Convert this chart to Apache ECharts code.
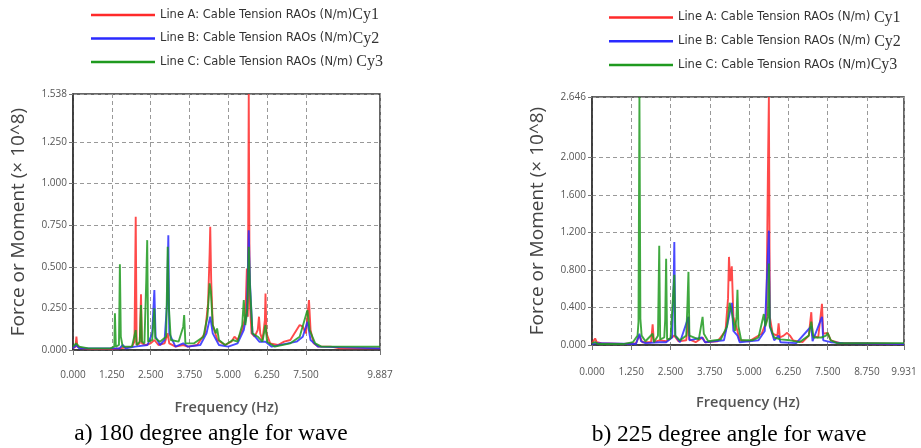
<!DOCTYPE html>
<html><head><meta charset="utf-8">
<script src="https://cdn.jsdelivr.net/npm/echarts@6/dist/echarts.min.js"></script>
<style>html,body{margin:0;padding:0;background:#fff}#c{width:921px;height:448px}</style>
</head><body><div id="c"></div>
<script>
// ---- data: [frequency (Hz), force (x10^8)] ----
const a180_lineA = [[0,0.01],[0.08,0.02],[0.11,0.08],[0.14,0.02],[0.2,0.03],[0.3,0.01],[0.6,0.005],[1.2,0.005],[1.5,0.01],[1.9,0.02],[1.98,0.05],[2.02,0.80],[2.05,0.03],[2.15,0.04],[2.19,0.335],[2.22,0.04],[2.35,0.03],[2.5,0.04],[2.62,0.06],[2.75,0.03],[2.95,0.04],[3.05,0.1],[3.1,0.04],[3.3,0.02],[3.55,0.03],[3.7,0.02],[4.0,0.03],[4.25,0.1],[4.35,0.28],[4.40,0.58],[4.42,0.74],[4.45,0.42],[4.5,0.15],[4.65,0.06],[4.9,0.03],[5.1,0.05],[5.2,0.08],[5.3,0.06],[5.45,0.12],[5.55,0.2],[5.6,0.49],[5.63,0.2],[5.66,1.538],[5.69,0.3],[5.75,0.1],[5.85,0.08],[5.95,0.12],[5.99,0.20],[6.03,0.1],[6.1,0.06],[6.18,0.18],[6.2,0.34],[6.23,0.1],[6.35,0.04],[6.6,0.03],[6.8,0.05],[7.0,0.06],[7.2,0.12],[7.3,0.15],[7.4,0.14],[7.5,0.1],[7.6,0.30],[7.65,0.12],[7.75,0.04],[7.9,0.02],[8.3,0.02],[8.6,0.01],[9.887,0.01]];
const a180_lineB = [[0,0.01],[0.1,0.03],[0.2,0.01],[1.5,0.01],[1.6,0.03],[1.7,0.01],[2.0,0.02],[2.4,0.03],[2.55,0.1],[2.62,0.36],[2.66,0.08],[2.8,0.03],[2.95,0.06],[3.03,0.28],[3.07,0.69],[3.1,0.1],[3.3,0.02],[3.55,0.04],[3.7,0.02],[4.1,0.03],[4.3,0.1],[4.42,0.2],[4.5,0.1],[4.7,0.03],[5.0,0.02],[5.3,0.04],[5.5,0.12],[5.6,0.22],[5.66,0.72],[5.7,0.4],[5.78,0.1],[6.0,0.05],[6.2,0.05],[6.4,0.02],[7.2,0.05],[7.4,0.08],[7.55,0.17],[7.65,0.06],[7.9,0.02],[9.887,0.01]];
const a180_lineC = [[0,0.02],[0.1,0.04],[0.2,0.02],[0.5,0.01],[1.2,0.01],[1.33,0.02],[1.35,0.22],[1.38,0.02],[1.48,0.03],[1.51,0.515],[1.54,0.08],[1.6,0.02],[1.9,0.02],[2.02,0.12],[2.05,0.03],[2.15,0.05],[2.19,0.27],[2.22,0.05],[2.3,0.04],[2.36,0.42],[2.39,0.66],[2.42,0.05],[2.55,0.06],[2.62,0.25],[2.65,0.07],[2.8,0.05],[3.0,0.08],[3.05,0.62],[3.09,0.25],[3.15,0.06],[3.4,0.05],[3.55,0.14],[3.58,0.21],[3.62,0.04],[3.9,0.04],[4.2,0.08],[4.33,0.2],[4.40,0.40],[4.44,0.35],[4.5,0.15],[4.6,0.1],[4.64,0.13],[4.7,0.06],[4.9,0.03],[5.15,0.06],[5.3,0.05],[5.45,0.15],[5.50,0.30],[5.55,0.15],[5.62,0.25],[5.66,0.62],[5.7,0.38],[5.78,0.1],[5.95,0.08],[6.1,0.05],[6.2,0.15],[6.25,0.05],[6.5,0.02],[7.0,0.04],[7.3,0.08],[7.55,0.24],[7.62,0.12],[7.8,0.04],[8.0,0.02],[9.887,0.02]];

const b225_lineA = [[0,0.02],[0.1,0.07],[0.15,0.03],[0.3,0.02],[1.0,0.01],[1.4,0.02],[1.51,0.1],[1.6,0.03],[1.88,0.03],[1.93,0.22],[1.97,0.03],[2.14,0.05],[2.36,0.04],[2.62,0.1],[2.75,0.04],[3.0,0.05],[3.07,0.30],[3.1,0.06],[3.3,0.03],[3.52,0.08],[3.6,0.03],[4.0,0.04],[4.25,0.15],[4.33,0.5],[4.36,0.94],[4.40,0.68],[4.45,0.84],[4.5,0.3],[4.63,0.15],[4.7,0.05],[5.0,0.04],[5.2,0.08],[5.4,0.12],[5.55,0.25],[5.60,1.86],[5.63,2.646],[5.66,0.3],[5.75,0.12],[5.9,0.1],[5.94,0.23],[5.98,0.08],[6.1,0.1],[6.21,0.13],[6.3,0.1],[6.4,0.05],[6.7,0.03],[6.9,0.1],[6.98,0.35],[7.02,0.1],[7.2,0.08],[7.32,0.44],[7.36,0.12],[7.5,0.13],[7.6,0.05],[7.9,0.02],[8.5,0.02],[9.931,0.01]];
const b225_lineB = [[0,0.01],[0.1,0.02],[1.4,0.01],[1.51,0.12],[1.56,0.04],[1.7,0.02],[2.14,0.03],[2.36,0.03],[2.55,0.08],[2.60,0.65],[2.62,1.10],[2.65,0.1],[2.8,0.03],[3.07,0.3],[3.1,0.05],[3.5,0.08],[3.6,0.03],[4.2,0.05],[4.36,0.3],[4.45,0.45],[4.5,0.15],[4.63,0.1],[4.7,0.03],[5.3,0.05],[5.5,0.15],[5.63,1.22],[5.66,0.2],[5.8,0.05],[5.94,0.1],[6.0,0.03],[6.5,0.02],[6.98,0.2],[7.02,0.04],[7.32,0.3],[7.36,0.05],[7.6,0.03],[8.0,0.02],[9.931,0.01]];
const b225_lineC = [[0,0.02],[0.1,0.03],[0.2,0.01],[1.0,0.01],[1.3,0.03],[1.45,0.1],[1.48,0.25],[1.51,2.646],[1.54,0.28],[1.58,0.1],[1.7,0.04],[1.93,0.12],[1.97,0.03],[2.1,0.1],[2.12,0.58],[2.14,1.06],[2.17,0.06],[2.3,0.08],[2.33,0.27],[2.36,0.92],[2.39,0.06],[2.5,0.07],[2.62,0.75],[2.65,0.1],[2.8,0.05],[3.0,0.1],[3.04,0.45],[3.07,0.78],[3.1,0.1],[3.4,0.06],[3.48,0.22],[3.52,0.30],[3.56,0.12],[3.7,0.04],[4.1,0.06],[4.3,0.2],[4.38,0.45],[4.45,0.35],[4.55,0.15],[4.6,0.3],[4.63,0.59],[4.66,0.2],[4.75,0.05],[5.1,0.05],[5.3,0.08],[5.47,0.33],[5.52,0.2],[5.6,0.3],[5.63,0.87],[5.66,0.2],[5.8,0.08],[6.0,0.06],[6.3,0.05],[6.6,0.03],[6.9,0.1],[6.98,0.25],[7.05,0.08],[7.3,0.08],[7.45,0.1],[7.5,0.13],[7.6,0.05],[7.8,0.02],[9.931,0.02]];

const xTicks180 = [0, 1.25, 2.5, 3.75, 5, 6.25, 7.5, 9.887];
const yTicks180 = [0, 0.25, 0.5, 0.75, 1.0, 1.25, 1.538];
const xTicks225 = [0, 1.25, 2.5, 3.75, 5, 6.25, 7.5, 8.75, 9.931];
const yTicks225 = [0, 0.4, 0.8, 1.2, 1.6, 2.0, 2.646];

const seriesNames180 = ['A180', 'B180', 'C180'];
const seriesNames225 = ['A225', 'B225', 'C225'];
const legendText = {
  A180: ['Line A: Cable Tension RAOs (N/m)', 'Cy1'],
  B180: ['Line B: Cable Tension RAOs (N/m)', 'Cy2'],
  C180: ['Line C: Cable Tension RAOs (N/m) ', 'Cy3'],
  A225: ['Line A: Cable Tension RAOs (N/m) ', 'Cy1'],
  B225: ['Line B: Cable Tension RAOs (N/m) ', 'Cy2'],
  C225: ['Line C: Cable Tension RAOs (N/m)', 'Cy3']
};
const captions = ['a) 180 degree angle for wave', 'b) 225 degree angle for wave'];
const yName = 'Force or Moment (× 10^8)';
const xName = 'Frequency (Hz)';

const colors = ['#ff2a2a', '#2a2aff', '#1f9a1f'];
const labelFont = { fontFamily: 'Open Sans', fontSize: 10, color: '#555' };

function xAxis(grid, ticks, labelMargin, nameGap) {
  return {
    type: 'value', gridIndex: grid, min: ticks[0], max: ticks[ticks.length - 1],
    name: xName, nameLocation: 'middle', nameGap: nameGap,
    nameTextStyle: { fontFamily: 'Open Sans', fontSize: 14.5, fontWeight: 600, color: '#555' },
    axisLine: { show: true, lineStyle: { color: '#333', width: 1.5 } },
    axisTick: { show: true, length: 5, customValues: ticks, lineStyle: { color: '#777' } },
    axisLabel: Object.assign({ customValues: ticks, margin: labelMargin, formatter: v => v.toFixed(3) }, labelFont),
    splitLine: { show: true, lineStyle: { color: '#999', type: [4, 3], width: 1 } }
  };
}
function yAxis(grid, ticks, nameGap) {
  return {
    type: 'value', gridIndex: grid, min: ticks[0], max: ticks[ticks.length - 1],
    name: yName, nameLocation: 'middle', nameGap: nameGap,
    nameTextStyle: { fontFamily: 'Open Sans', fontSize: 19, color: '#444' },
    axisLine: { show: true, lineStyle: { color: '#333', width: 1.5 } },
    axisTick: { show: true, length: 4, customValues: ticks, lineStyle: { color: '#777' } },
    axisLabel: Object.assign({ customValues: ticks, margin: 6, formatter: v => v.toFixed(3) }, labelFont),
    splitLine: { show: true, lineStyle: { color: '#999', type: [4, 3], width: 1 } }
  };
}
function line(name, data, gi, ci) {
  return {
    type: 'line', name: name, data: data, xAxisIndex: gi, yAxisIndex: gi,
    symbol: 'none', showSymbol: false, sampling: null, clip: true,
    lineStyle: { color: colors[ci], width: 1.9, opacity: 0.85 },
    itemStyle: { color: colors[ci] }
  };
}
function legend(names, left, top, gap) {
  return {
    data: names, orient: 'vertical', left: left, top: top,
    icon: 'rect', itemWidth: 64, itemHeight: 2.5, itemGap: gap,
    formatter: n => '{t|' + legendText[n][0] + '}{c|' + legendText[n][1] + '}',
    textStyle: {
      rich: {
        t: { fontFamily: 'DejaVu Sans', fontSize: 11.5, color: '#333', lineHeight: 17 },
        c: { fontFamily: 'Liberation Serif', fontSize: 16, color: '#333', lineHeight: 17 }
      }
    }
  };
}

const chart = echarts.init(document.getElementById('c'), null, { renderer: 'canvas' });
chart.setOption({
  animation: false,
  backgroundColor: '#fff',
  title: [
    { text: captions[0], left: 206, top: 417, textAlign: 'center',
      textStyle: { fontFamily: 'Liberation Serif', fontSize: 23.5, fontWeight: 'normal', color: '#000' } },
    { text: captions[1], left: 724, top: 418, textAlign: 'center',
      textStyle: { fontFamily: 'Liberation Serif', fontSize: 23.5, fontWeight: 'normal', color: '#000' } }
  ],
  legend: [legend(seriesNames180, 86, 2, 7.5), legend(seriesNames225, 604, 4.5, 7.8)],
  grid: [
    { left: 73, top: 94, width: 307, height: 256, show: true, borderColor: '#333', borderWidth: 1.5, backgroundColor: 'transparent' },
    { left: 592, top: 97, width: 312, height: 248, show: true, borderColor: '#333', borderWidth: 1.5, backgroundColor: 'transparent' }
  ],
  xAxis: [xAxis(0, xTicks180, 20, 50), xAxis(1, xTicks225, 22, 50)],
  yAxis: [yAxis(0, yTicks180, 45), yAxis(1, yTicks225, 45)],
  series: [
    line(seriesNames180[0], a180_lineA, 0, 0),
    line(seriesNames180[1], a180_lineB, 0, 1),
    line(seriesNames180[2], a180_lineC, 0, 2),
    line(seriesNames225[0], b225_lineA, 1, 0),
    line(seriesNames225[1], b225_lineB, 1, 1),
    line(seriesNames225[2], b225_lineC, 1, 2)
  ]
});
</script></body></html>
